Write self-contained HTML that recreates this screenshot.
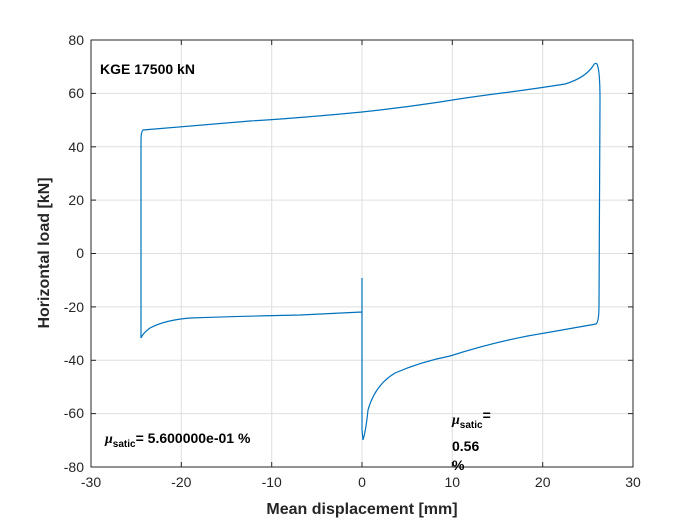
<!DOCTYPE html>
<html><head><style>body{margin:0;background:#fff}</style></head><body>
<svg width="700" height="525" xmlns="http://www.w3.org/2000/svg" font-family="Liberation Sans, sans-serif">
<rect width="700" height="525" fill="#fff"/>
<g stroke="#dfdfdf" stroke-width="1">
<line x1="181.3" y1="40" x2="181.3" y2="467"/><line x1="271.7" y1="40" x2="271.7" y2="467"/><line x1="362" y1="40" x2="362" y2="467"/><line x1="452.3" y1="40" x2="452.3" y2="467"/><line x1="542.7" y1="40" x2="542.7" y2="467"/>
<line x1="91" y1="93.4" x2="633" y2="93.4"/><line x1="91" y1="146.8" x2="633" y2="146.8"/><line x1="91" y1="200.1" x2="633" y2="200.1"/><line x1="91" y1="253.5" x2="633" y2="253.5"/><line x1="91" y1="306.9" x2="633" y2="306.9"/><line x1="91" y1="360.3" x2="633" y2="360.3"/><line x1="91" y1="413.6" x2="633" y2="413.6"/>
</g>
<rect x="91" y="40" width="542" height="427" fill="none" stroke="#262626" stroke-width="1"/>
<g stroke="#262626">
<line x1="181.3" y1="467" x2="181.3" y2="462"/><line x1="271.7" y1="467" x2="271.7" y2="462"/><line x1="362" y1="467" x2="362" y2="462"/><line x1="452.3" y1="467" x2="452.3" y2="462"/><line x1="542.7" y1="467" x2="542.7" y2="462"/>
<line x1="181.3" y1="40" x2="181.3" y2="45"/><line x1="271.7" y1="40" x2="271.7" y2="45"/><line x1="362" y1="40" x2="362" y2="45"/><line x1="452.3" y1="40" x2="452.3" y2="45"/><line x1="542.7" y1="40" x2="542.7" y2="45"/>
<line x1="91" y1="93.4" x2="96" y2="93.4"/><line x1="91" y1="146.8" x2="96" y2="146.8"/><line x1="91" y1="200.1" x2="96" y2="200.1"/><line x1="91" y1="253.5" x2="96" y2="253.5"/><line x1="91" y1="306.9" x2="96" y2="306.9"/><line x1="91" y1="360.3" x2="96" y2="360.3"/><line x1="91" y1="413.6" x2="96" y2="413.6"/>
<line x1="628" y1="93.4" x2="633" y2="93.4"/><line x1="628" y1="146.8" x2="633" y2="146.8"/><line x1="628" y1="200.1" x2="633" y2="200.1"/><line x1="628" y1="253.5" x2="633" y2="253.5"/><line x1="628" y1="306.9" x2="633" y2="306.9"/><line x1="628" y1="360.3" x2="633" y2="360.3"/><line x1="628" y1="413.6" x2="633" y2="413.6"/>
</g>
<g font-size="14" fill="#262626" text-anchor="middle">
<text x="91" y="487">-30</text><text x="181.3" y="487">-20</text><text x="271.7" y="487">-10</text><text x="362" y="487">0</text><text x="452.3" y="487">10</text><text x="542.7" y="487">20</text><text x="633" y="487">30</text>
</g>
<g font-size="14" fill="#262626" text-anchor="end">
<text x="84" y="45">80</text><text x="84" y="98">60</text><text x="84" y="152">40</text><text x="84" y="205">20</text><text x="84" y="258">0</text><text x="84" y="312">-20</text><text x="84" y="365">-40</text><text x="84" y="418">-60</text><text x="84" y="472">-80</text>
</g>
<text x="362" y="514" font-size="16" font-weight="bold" text-anchor="middle" fill="#262626">Mean displacement [mm]</text>
<text transform="translate(49,253) rotate(-90)" font-size="16" font-weight="bold" text-anchor="middle" fill="#262626">Horizontal load [kN]</text>
<path fill="none" stroke="#0072bd" stroke-width="1.2" d="M362,312 L362,278 L362,430 L363,440 Q366,430 368,410 Q375,385 395,373 Q420,362 450,356 Q500,340 545,333 L596,324 Q599,322 599,305 L600,100 Q600,70 597,64 Q595,62 593,66 Q585,78 565,84 Q540,88 510,92 Q470,97 440,102 Q400,108 362,112 Q300,118 250,121 Q200,125 143,130 Q141,132 141,140 L141,335 L141,338 Q143,333 150,328 Q165,320 190,318 Q250,316 300,315 L362,312"/>
<text x="100" y="74" font-size="14" font-weight="bold" fill="#000">KGE 17500 kN</text>
<text x="105" y="443" font-size="14" font-weight="bold" fill="#000"><tspan font-style="italic" font-family="Liberation Serif, serif">μ</tspan><tspan font-size="10" dy="4">satic</tspan><tspan dy="-4">= 5.600000e-01 %</tspan></text>
<text x="452" y="424" font-size="14" font-weight="bold" fill="#000"><tspan font-style="italic" font-family="Liberation Serif, serif">μ</tspan><tspan font-size="10" dy="4">satic</tspan><tspan dy="-8">=</tspan></text>
<text x="452" y="451" font-size="14" font-weight="bold" fill="#000">0.56</text>
<text x="452" y="470" font-size="14" font-weight="bold" fill="#000">%</text>
</svg>
</body></html>
